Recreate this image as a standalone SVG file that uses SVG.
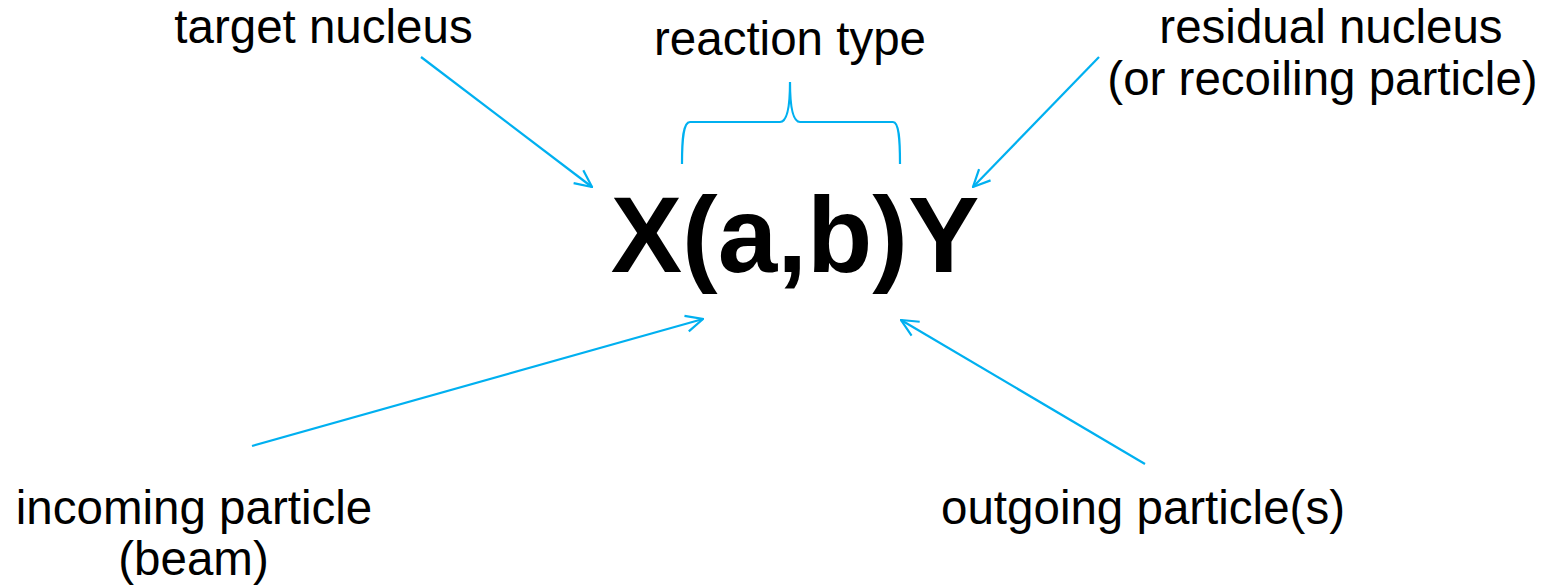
<svg xmlns="http://www.w3.org/2000/svg" width="1545" height="587" viewBox="0 0 1545 587">
<style>
.lbl{font-family:"Liberation Sans",Arial,sans-serif;font-size:47.5px;fill:#000;text-anchor:middle}
.main{font-family:"Liberation Sans",Arial,sans-serif;font-size:107px;font-weight:bold;fill:#000;text-anchor:middle}
.conn{stroke:#00B0F0;stroke-width:2.2;fill:none}
</style>
<defs>
<marker id="arr" viewBox="0 0 20 20" refX="19" refY="10" markerWidth="20" markerHeight="20" markerUnits="userSpaceOnUse" orient="auto">
<path d="M2,2 L19,10 L2,18" fill="none" stroke="#00B0F0" stroke-width="2.2"/>
</marker>
</defs>
<rect width="1545" height="587" fill="#fff"/>
<g id="reaction"><text class="main" x="795" y="272">X(a,b)Y</text></g>
<g id="target"><text class="lbl" x="323.5" y="43">target nucleus</text></g>
<g id="type"><text class="lbl" x="790" y="55">reaction type</text></g>
<g id="residual"><text class="lbl" x="1331" y="43">residual nucleus</text><text class="lbl" x="1322.5" y="95">(or recoiling particle)</text></g>
<g id="incoming"><text class="lbl" x="194" y="524">incoming particle</text><text class="lbl" x="193.5" y="575">(beam)</text></g>
<g id="outgoing"><text class="lbl" x="1143" y="524">outgoing particle(s)</text></g>
<g id="connectors">
<line class="conn" x1="421" y1="57" x2="592" y2="187" marker-end="url(#arr)"/>
<line class="conn" x1="1099" y1="57" x2="973" y2="187" marker-end="url(#arr)"/>
<line class="conn" x1="252" y1="446" x2="703" y2="319" marker-end="url(#arr)"/>
<line class="conn" x1="1145" y1="464" x2="901" y2="320" marker-end="url(#arr)"/>
<path class="conn" stroke-width="1.5" d="M682,164 C682,140 683,122 690,122 L780,122 C786,122 790,110 790,82 C790,110 794,122 800,122 L893,122 C899,122 900,140 900,164"/>
</g>
</svg>
